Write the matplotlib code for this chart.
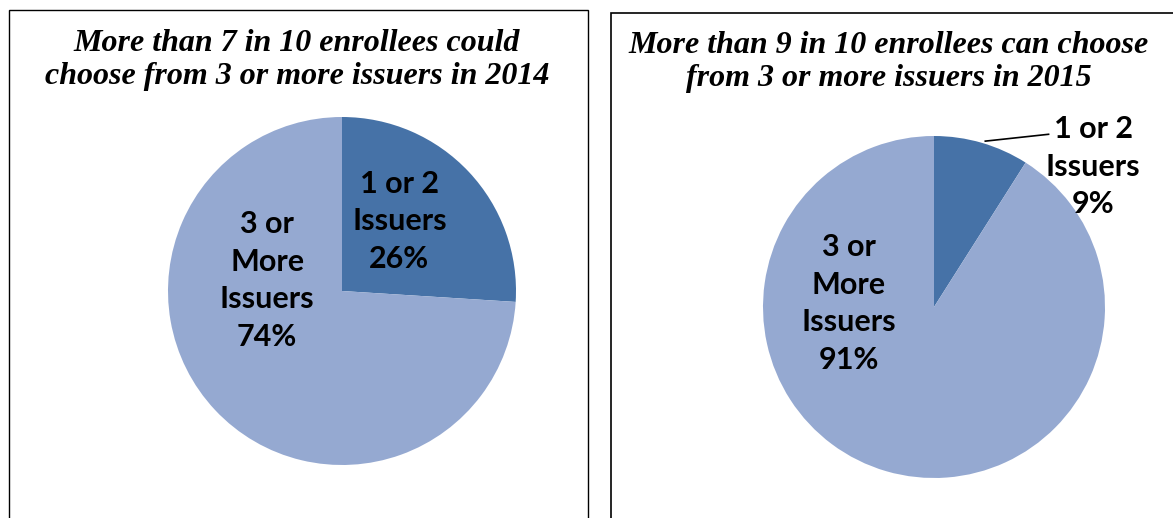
import matplotlib.pyplot as plt
from matplotlib.patches import Rectangle

# data
labels_2014 = ["1 or 2\nIssuers\n26%", "3 or\nMore\nIssuers\n74%"]
values_2014 = [26, 74]
labels_2015 = ["1 or 2\nIssuers\n9%", "3 or\nMore\nIssuers\n91%"]
values_2015 = [9, 91]
titles = ["More than 7 in 10 enrollees could\nchoose from 3 or more issuers in 2014",
          "More than 9 in 10 enrollees can choose\nfrom 3 or more issuers in 2015"]

colors = ["#4672A7", "#95A9D1"]
W, H = 1173, 518

fig = plt.figure(figsize=(W / 100, H / 100), dpi=100)

# panel borders
fig.patches.append(Rectangle((9 / W, -0.1), 579 / W, (H - 10) / H + 0.1,
                             transform=fig.transFigure, fill=False, edgecolor="black", lw=1))
fig.patches.append(Rectangle((611 / W, -0.1), 0.6, (H - 13) / H + 0.1,
                             transform=fig.transFigure, fill=False, edgecolor="black", lw=1.2))


def make_ax(cx, cy, r):
    ax = fig.add_axes([(cx - r) / W, (H - cy - r) / H, 2 * r / W, 2 * r / H])
    ax.axis("off")
    return ax


def fix_limits(ax):
    ax.set_xlim(-1, 1)
    ax.set_ylim(-1, 1)
    ax.set_aspect("equal")


label_font = dict(family=["Lato", "DejaVu Sans"], fontsize=22, fontweight="bold",
                  ha="center", va="center", linespacing=1.42)
title_font = dict(family=["Liberation Serif"], fontsize=23, fontweight="bold",
                  style="italic", ha="center", va="center", linespacing=1.17)

# 2014
ax1 = make_ax(342, 291, 174)
ax1.pie(values_2014, colors=colors, startangle=90, counterclock=False, radius=1,
        wedgeprops=dict(linewidth=0))
fix_limits(ax1)
ax1.text(0.33, 0.40, labels_2014[0], **label_font)
ax1.text(-0.43, 0.06, labels_2014[1], **label_font)
fig.text(297 / W, 1 - 60 / H, titles[0], **title_font)

# 2015
ax2 = make_ax(934, 307, 171)
ax2.pie(values_2015, colors=colors, startangle=90, counterclock=False, radius=1,
        wedgeprops=dict(linewidth=0))
fix_limits(ax2)
ax2.plot([0.30, 0.67], [0.97, 1.01], color="black", lw=1.2, clip_on=False)
ax2.text(0.93, 0.82, labels_2015[0], clip_on=False, **label_font)
ax2.text(-0.50, 0.02, labels_2015[1], **label_font)
fig.text(889 / W, 1 - 62 / H, titles[1], **title_font)

fig.savefig("out.png", dpi=100)
